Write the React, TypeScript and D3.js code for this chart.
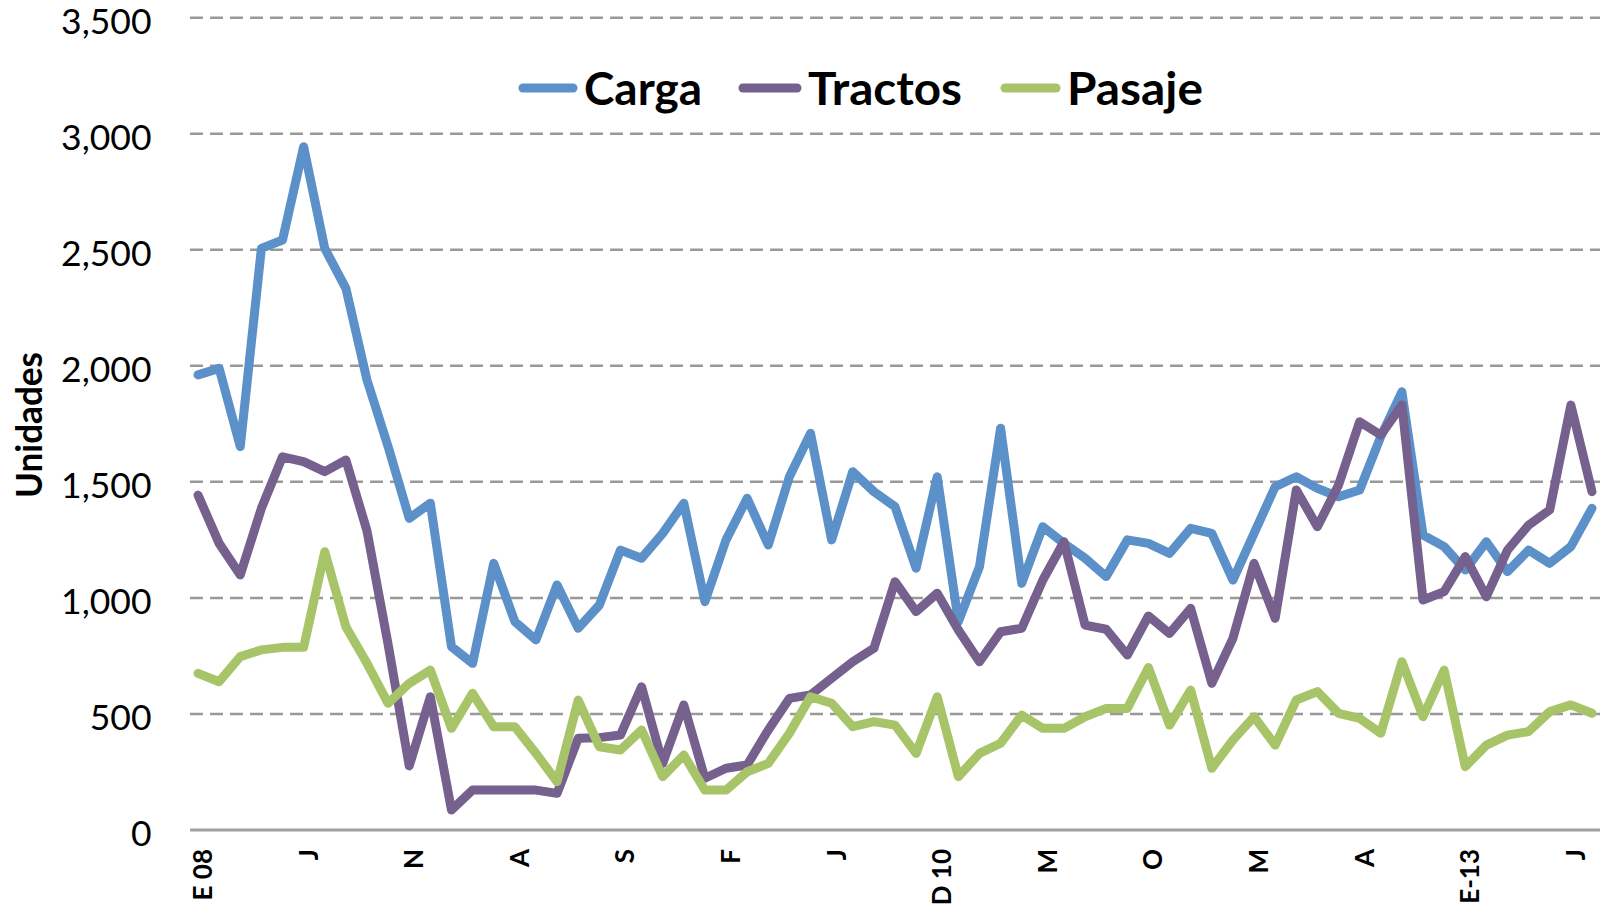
import React from "react";
import * as d3 from "d3";

// Monthly values, Jan 2008 .. Jul 2013
const carga = [1961, 1989, 1652, 2506, 2542, 2944, 2506, 2334, 1939, 1652, 1343, 1408, 790, 718, 1149, 898, 819, 1056, 869, 969, 1206, 1171, 1278, 1408, 984, 1250, 1429, 1228, 1522, 1709, 1250, 1544, 1458, 1393, 1128, 1522, 898, 1135, 1731, 1063, 1307, 1235, 1171, 1092, 1250, 1235, 1192, 1300, 1278, 1077, 1278, 1479, 1522, 1472, 1436, 1465, 1695, 1888, 1271, 1221, 1120, 1242, 1113, 1206, 1149, 1221, 1386];
const tractos = [1443, 1235, 1099, 1386, 1608, 1587, 1544, 1594, 1289, 800, 276, 574, 86, 172, 172, 172, 172, 158, 395, 398, 409, 617, 287, 539, 223, 266, 280, 431, 567, 582, 654, 725, 783, 1070, 941, 1020, 862, 725, 854, 869, 1077, 1242, 883, 865, 754, 922, 847, 955, 632, 826, 1149, 912, 1465, 1307, 1486, 1759, 1702, 1831, 991, 1027, 1178, 1005, 1206, 1314, 1379, 1831, 1458];
const pasaje = [675, 639, 747, 776, 787, 787, 1199, 876, 718, 546, 632, 689, 438, 589, 445, 445, 330, 208, 560, 359, 345, 431, 230, 323, 172, 172, 251, 287, 417, 574, 546, 445, 467, 452, 330, 574, 230, 330, 374, 495, 438, 438, 488, 524, 524, 700, 452, 603, 266, 388, 488, 366, 560, 596, 503, 481, 417, 725, 488, 689, 273, 366, 409, 424, 510, 539, 503];

const xTickLabels = ["E 08", "J", "N", "A", "S", "F", "J", "D 10", "M", "O", "M", "A", "E-13", "J"];
const xTickEvery = 5;
const yTicks = [0, 500, 1000, 1500, 2000, 2500, 3000, 3500];
const seriesNames = ["Carga", "Tractos", "Pasaje"];
const seriesColors = ["#5B91C8", "#76608E", "#A8C468"];
const yTitle = "Unidades";

export default function App() {
  const W = 1610, H = 904;
  const left = 190, right = 1600, top = 17.7, bottom = 830;
  const series = [carga, tractos, pasaje];

  const x = d3.scalePoint<number>().domain(d3.range(carga.length)).range([left, right]).padding(0.38);
  const y = d3.scaleLinear().domain([0, 3500]).range([bottom, top]);
  const line = d3.line<number>().x((_, i) => x(i) as number).y((d) => y(d));

  const font = "Lato, 'Open Sans', sans-serif";
  const legendLayout = [
    { lx1: 523, lx2: 573, tx: 584, tl: 118 },
    { lx1: 743, lx2: 797, tx: 808, tl: 154 },
    { lx1: 1005, lx2: 1056, tx: 1067, tl: 136 },
  ];

  return (
    <svg width={W} height={H} style={{ position: "absolute", left: 0, top: 0, background: "#fff" }} fontFamily={font}>
      <rect x={0} y={0} width={W} height={H} fill="#fff" />
      {/* gridlines */}
      {yTicks.filter((t) => t > 0).map((t) => (
        <line key={t} x1={left} x2={right} y1={y(t)} y2={y(t)} stroke="#999" strokeWidth={2.5} strokeDasharray="13 7" />
      ))}
      {/* x axis line */}
      <line x1={left} x2={right} y1={y(0)} y2={y(0)} stroke="#A0A0A0" strokeWidth={3} />
      {/* y tick labels */}
      {yTicks.map((t) => (
        <text key={t} x={151.5} y={y(t) + 16} textAnchor="end" fontSize={35.5} fill="#000">
          {d3.format(",")(t)}
        </text>
      ))}
      {/* x tick labels */}
      {xTickLabels.map((lab, k) => {
        const px = (x(k * xTickEvery) as number) + 14;
        const py = 849;
        return (
          <text key={k} x={px} y={py} transform={`rotate(-90, ${px}, ${py})`} textAnchor="end" fontSize={26} fontWeight="bold" fill="#000">
            {lab}
          </text>
        );
      })}
      {/* y title */}
      <text x={41.7} y={425} transform="rotate(-90, 41.7, 425)" textAnchor="middle" fontSize={36} fontWeight="bold" textLength={146} lengthAdjust="spacingAndGlyphs" fill="#000">
        {yTitle}
      </text>
      {/* series */}
      {series.map((s, k) => (
        <path key={k} d={line(s) || ""} fill="none" stroke={seriesColors[k]} strokeWidth={9} strokeLinejoin="round" strokeLinecap="round" />
      ))}
      {/* legend */}
      {seriesNames.map((n, k) => {
        const L = legendLayout[k];
        return (
          <g key={n}>
            <line x1={L.lx1} x2={L.lx2} y1={88} y2={88} stroke={seriesColors[k]} strokeWidth={9} strokeLinecap="round" />
            <text x={L.tx} y={105} fontSize={45} fontWeight="bold" textLength={L.tl} lengthAdjust="spacingAndGlyphs" fill="#000">
              {n}
            </text>
          </g>
        );
      })}
    </svg>
  );
}
